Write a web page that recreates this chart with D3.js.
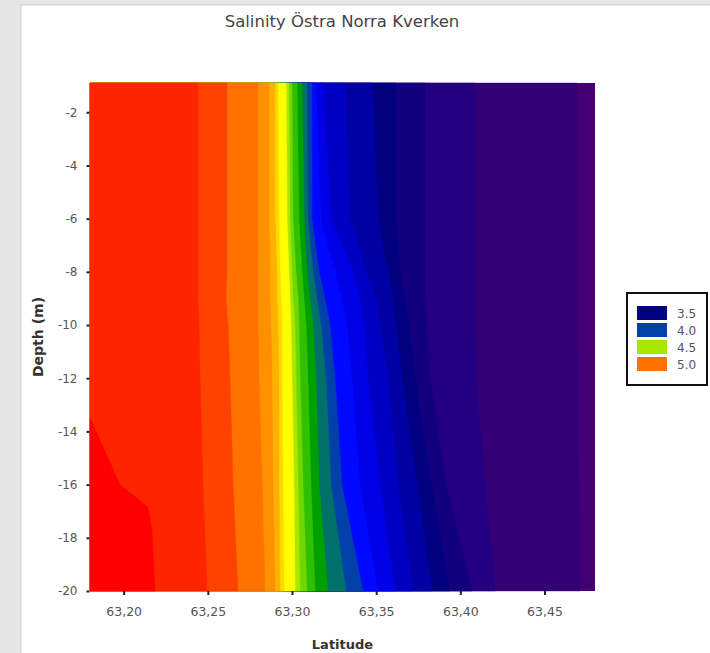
<!DOCTYPE html>
<html><head><meta charset="utf-8">
<script src="https://cdn.jsdelivr.net/npm/d3@7"></script>
<style>html,body{margin:0;padding:0;background:#e6e6e6;overflow:hidden}svg{display:block}</style>
</head><body>
<svg id="c" width="710" height="653"></svg>
<script>
// ---- data ----
const chartTitle = "Salinity Östra Norra Kverken";
const xTitle = "Latitude";
const yTitle = "Depth (m)";
const latDomain = [63.18, 63.48];
const depthDomain = [-0.9, -20];
const xTicks = [63.20, 63.25, 63.30, 63.35, 63.40, 63.45];
const yTicks = [-2, -4, -6, -8, -10, -12, -14, -16, -18, -20];

// salinity contour levels (PSU) and fill colour of the band at/above each level
const baseColor = "#430075";                 // below 3.2
const levels = [3.2, 3.3, 3.4, 3.5, 3.6, 3.7, 3.8, 3.9, 4.0, 4.1, 4.2, 4.3, 4.4, 4.5, 4.6, 4.7, 4.8, 4.9, 5.0, 5.1, 5.2, 5.3];
const levelColors = ["#340078", "#230080", "#12007f", "#000080", "#0000a4", "#0000c4", "#0000e6", "#0008ff",
                     "#0040a8", "#00706a", "#00a000", "#30c000", "#70d800", "#a8e800", "#ffff00", "#ffd800",
                     "#ffb000", "#ff9000", "#ff7200", "#ff4200", "#ff2400", "#ff0000"];

// depth rows at which isoline latitudes were read
const depths = [-0.9, -6, -8, -9, -10, -12, -16, -20];
// latitude of each isoline at those depths
const iso32 = [63.4694, 63.4694, 63.4694, 63.4694, 63.4694, 63.4700, 63.4706, 63.4712];
const iso33 = [63.4088, 63.4088, 63.4088, 63.4088, 63.4088, 63.4094, 63.4147, 63.4207];
const iso34 = [63.3791, 63.3791, 63.3791, 63.3791, 63.3797, 63.3820, 63.3915, 63.4070];
const iso35 = [63.3618, 63.3618, 63.3642, 63.3672, 63.3696, 63.3731, 63.3826, 63.3939];
const iso36 = [63.3476, 63.3511, 63.3571, 63.3600, 63.3618, 63.3654, 63.3743, 63.3832];
const iso37 = [63.3315, 63.3345, 63.3440, 63.3499, 63.3523, 63.3571, 63.3630, 63.3719];
const iso38 = [63.3184, 63.3232, 63.3363, 63.3404, 63.3428, 63.3452, 63.3523, 63.3612];
const iso39 = [63.3143, 63.3173, 63.3256, 63.3297, 63.3327, 63.3357, 63.3404, 63.3511];
const iso40 = [63.3119, 63.3119, 63.3161, 63.3196, 63.3226, 63.3256, 63.3297, 63.3422];
const iso41 = [63.3089, 63.3095, 63.3125, 63.3149, 63.3173, 63.3202, 63.3232, 63.3321];
const iso42 = [63.3060, 63.3072, 63.3089, 63.3107, 63.3125, 63.3143, 63.3161, 63.3214];
const iso43 = [63.3030, 63.3042, 63.3060, 63.3072, 63.3084, 63.3095, 63.3113, 63.3137];
const iso44 = [63.3000, 63.3006, 63.3024, 63.3036, 63.3042, 63.3048, 63.3066, 63.3089];
const iso45 = [63.2982, 63.2988, 63.3000, 63.3006, 63.3018, 63.3024, 63.3036, 63.3048];
const iso46 = [63.2965, 63.2971, 63.2982, 63.2988, 63.2994, 63.3000, 63.3012, 63.3018];
const iso47 = [63.2917, 63.2923, 63.2929, 63.2935, 63.2941, 63.2941, 63.2947, 63.2953];
const iso48 = [63.2899, 63.2899, 63.2911, 63.2911, 63.2917, 63.2923, 63.2923, 63.2929];
const iso49 = [63.2864, 63.2864, 63.2870, 63.2870, 63.2876, 63.2881, 63.2887, 63.2899];
const iso50 = [63.2798, 63.2798, 63.2798, 63.2798, 63.2798, 63.2804, 63.2822, 63.2840];
const iso51 = [63.2614, 63.2614, 63.2614, 63.2608, 63.2620, 63.2632, 63.2650, 63.2679];
const iso52 = [63.2442, 63.2442, 63.2442, 63.2442, 63.2448, 63.2454, 63.2471, 63.2495];
// the 5.3 isoline only exists in the deep south-west corner
const iso53Depths = [-13.5, -16, -16.85, -17.7, -20];
const iso53 = [63.1800, 63.1978, 63.2145, 63.2168, 63.2186];

const legendLevels = [3.5, 4.0, 4.5, 5.0];

// ---- drawing ----
const svg = d3.select("#c");
svg.append("rect").attr("x", 21).attr("y", 5).attr("width", 700).attr("height", 660)
  .attr("fill", "#fff").attr("stroke", "#c9c9c9").attr("stroke-width", 1);

const x = d3.scaleLinear().domain(latDomain).range([90, 595]);
const y = d3.scaleLinear().domain(depthDomain).range([83, 591]);

const plot = svg.append("g");
plot.append("rect")
  .attr("x", x(latDomain[0])).attr("y", y(depthDomain[0]))
  .attr("width", x(latDomain[1]) - x(latDomain[0]))
  .attr("height", y(depthDomain[1]) - y(depthDomain[0]))
  .attr("fill", baseColor);

const isoLats = [iso32, iso33, iso34, iso35, iso36, iso37, iso38, iso39, iso40, iso41, iso42,
                 iso43, iso44, iso45, iso46, iso47, iso48, iso49, iso50, iso51, iso52, iso53];
const area = d3.area()
  .y(d => y(d[0]))
  .x0(x(latDomain[0]))
  .x1(d => x(d[1]))
  .curve(d3.curveLinear);

levels.forEach((lv, i) => {
  const dps = (lv === 5.3) ? iso53Depths : depths;
  plot.append("path")
    .attr("d", area(d3.zip(dps, isoLats[i])))
    .attr("fill", levelColors[i])
    .attr("stroke", levelColors[i]).attr("stroke-width", 0.4);
});

const font = "'DejaVu Sans', sans-serif";

// axes
const yAxis = d3.axisLeft(y).tickValues(yTicks).tickSize(3).tickPadding(9)
  .tickFormat(d => String(d));
const gy = svg.append("g").attr("transform", `translate(${x(latDomain[0]) - 0.5},0)`).call(yAxis);
gy.select(".domain").remove();
gy.selectAll(".tick line").attr("stroke", "#222").attr("stroke-width", 2);
gy.selectAll(".tick text").attr("font-family", font).attr("font-size", 12).attr("fill", "#555");

const xAxis = d3.axisBottom(x).tickValues(xTicks).tickSize(4).tickPadding(12)
  .tickFormat(d => d.toFixed(2).replace(".", ","));
const gx = svg.append("g").attr("transform", `translate(0,${y(depthDomain[1])})`).call(xAxis);
gx.select(".domain").remove();
gx.selectAll(".tick line").attr("stroke", "#222").attr("stroke-width", 2);
gx.selectAll(".tick text").attr("font-family", font).attr("font-size", 12.5).attr("fill", "#555");

// titles
svg.append("text").attr("x", 342).attr("y", 27).attr("text-anchor", "middle")
  .attr("font-family", font).attr("font-size", 16.5).attr("fill", "#444").text(chartTitle);
svg.append("text").attr("x", (x.range()[0] + x.range()[1]) / 2).attr("y", 649).attr("text-anchor", "middle")
  .attr("font-family", font).attr("font-size", 13).attr("font-weight", "bold").attr("fill", "#333").text(xTitle);
svg.append("text").attr("transform", `translate(43,${(y.range()[0] + y.range()[1]) / 2}) rotate(-90)`)
  .attr("text-anchor", "middle")
  .attr("font-family", font).attr("font-size", 14).attr("font-weight", "bold").attr("fill", "#333").text(yTitle);

// legend
const lg = svg.append("g");
lg.append("rect").attr("x", 627).attr("y", 293).attr("width", 80).attr("height", 92)
  .attr("fill", "#fff").attr("stroke", "#111").attr("stroke-width", 2);
legendLevels.forEach((lv, i) => {
  const c = levelColors[levels.indexOf(lv)];
  const yy = 306 + i * 17;
  lg.append("rect").attr("x", 637).attr("y", yy).attr("width", 30).attr("height", 14).attr("fill", c);
  lg.append("text").attr("x", 677).attr("y", yy + 11.5)
    .attr("font-family", font).attr("font-size", 12).attr("fill", "#555").text(lv.toFixed(1));
});
</script>
</body></html>
